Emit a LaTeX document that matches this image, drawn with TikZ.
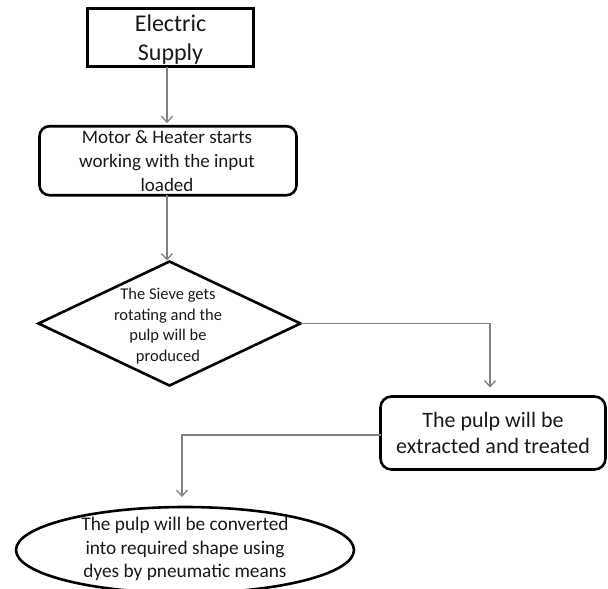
\documentclass[tikz,border=0pt]{standalone}
\usepackage{fontspec}
\setmainfont{Carlito}
\usetikzlibrary{shapes.geometric,arrows.meta}
\begin{document}
\begin{tikzpicture}[x=1pt,y=-1pt,
  shp/.style={draw=black,line width=2.6pt,inner sep=0pt,outer sep=0pt},
  conn/.style={draw=black!50,line width=1.3pt,-{Straight Barb[length=6pt,width=11pt,line width=1.3pt]}},
  txt/.style={align=center,inner sep=0pt,text=black!90}]
\useasboundingbox (0,0) rectangle (608,589);
\node[shp,rectangle,minimum width=166pt,minimum height=58pt] (es) at (170.5,37.5) {};
\node[shp,rectangle,rounded corners=10pt,minimum width=257pt,minimum height=69pt] (mo) at (168,160.7) {};
\node[shp,diamond,minimum width=262pt,minimum height=124pt] (di) at (169.5,323.5) {};
\node[shp,rectangle,rounded corners=11pt,minimum width=225pt,minimum height=73pt] (pu) at (493,433) {};
\node[shp,ellipse,minimum width=338pt,minimum height=86pt] (el) at (185,550) {};

\node[txt,font=\fontsize{24}{29}\selectfont] (tes) at ([yshift=-2.5pt]es.center) {Electric\\Supply};
\node[txt,font=\fontsize{19}{24}\selectfont] (tmo) at ([xshift=-1pt,yshift=-0.5pt]mo.center) {Motor \& Heater starts\\working with the input\\loaded};
\node[txt,font=\fontsize{16.5}{20.5}\selectfont] (tdi) at ([xshift=-1.5pt,yshift=-2.5pt]di.center) {The Sieve gets\\rotating and the\\pulp will be\\produced};
\node[txt,font=\fontsize{22}{26.5}\selectfont] (tpu) at (pu.center) {The pulp will be\\extracted and treated};
\node[txt,font=\fontsize{19.3}{23.5}\selectfont] (tel) at ([yshift=1pt]el.center) {The pulp will be converted\\into required shape using\\dyes by pneumatic means};

\coordinate (c1s) at ([xshift=-3.5pt]es.south);
\coordinate (c1e) at ([yshift=3pt]c1s |- mo.north);
\draw[conn] (c1s) -- (c1e);
\coordinate (c2s) at ([xshift=-1pt]mo.south);
\coordinate (c2e) at ([yshift=1pt]c2s |- di.north);
\draw[conn] (c2s) -- (c2e);
\coordinate (c3e) at ([xshift=-3pt,yshift=9pt]pu.north);
\draw[conn] (di.east) -| (c3e);
\coordinate (c4s) at ([yshift=-2pt]pu.west);
\coordinate (c4e) at ([xshift=-3pt,yshift=10pt]el.north);
\draw[conn] (c4s) -| (c4e);
\end{tikzpicture}
\end{document}
